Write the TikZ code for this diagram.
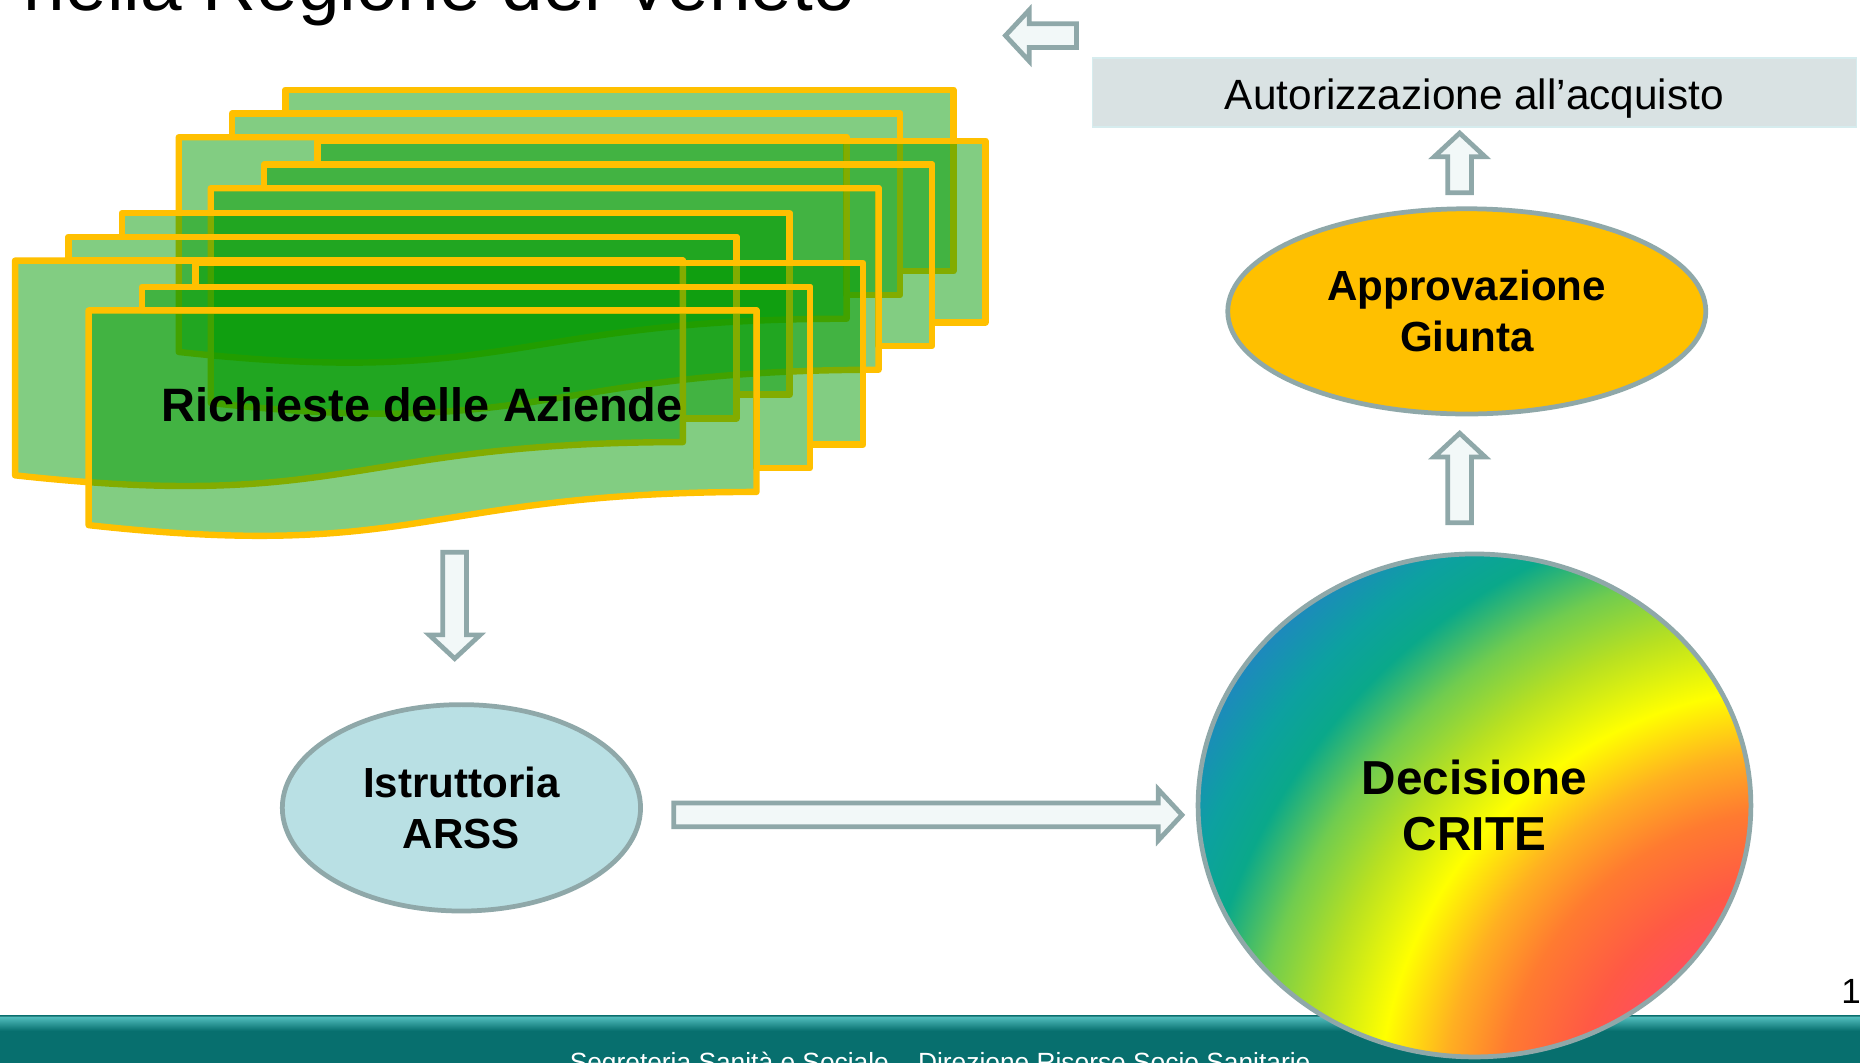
\documentclass[tikz,border=0pt]{standalone}
\usepackage{fontspec}
\setmainfont{Liberation Sans}
\usepackage{tikz}
\usetikzlibrary{shapes.geometric,calc}

\definecolor{docgreen}{RGB}{0,153,0}
\definecolor{docgold}{RGB}{255,192,0}
\definecolor{arrowgray}{RGB}{143,168,169}
\definecolor{arrowfill}{RGB}{242,248,248}
\definecolor{istrblue}{RGB}{185,224,228}
\definecolor{authgray}{RGB}{217,226,227}
\definecolor{authline}{RGB}{214,236,238}
\definecolor{footdark}{RGB}{7,111,110}
\definecolor{footlight}{RGB}{76,184,184}
\definecolor{footline}{RGB}{44,135,135}

\pgfdeclareradialshading{critefill}{\pgfpoint{0bp}{0bp}}{%
rgb(0bp)=(1,.30,.38);
rgb(5.7bp)=(1,.31,.36);
rgb(7.15bp)=(1,.35,.27);
rgb(9.3bp)=(1,.48,.19);
rgb(11.05bp)=(1,.69,.13);
rgb(12.95bp)=(1,1,0);
rgb(15bp)=(.72,.88,.13);
rgb(16.8bp)=(.44,.80,.31);
rgb(18.55bp)=(.04,.66,.54);
rgb(20bp)=(.05,.63,.63);
rgb(21.8bp)=(.12,.53,.75);
rgb(25bp)=(.13,.50,.78)}

\begin{document}
\begin{tikzpicture}[x=1pt,y=-1pt]
\tikzstyle{docpage}=[fill=docgreen,fill opacity=0.49,draw=docgold,line width=5.4pt,line join=round];
\tikzstyle{bubble}=[draw=arrowgray,line width=4pt,shape=ellipse,align=center,inner sep=0pt,font=\fontsize{35.5}{43}\selectfont\bfseries];
\tikzstyle{barrow}=[draw=arrowgray,fill=arrowfill,line width=4pt,
  to path={let \p1=(\tikztostart), \p2=(\tikztotarget),
    \n1={atan2(\y2-\y1,\x2-\x1)}, \n2={veclen(\x2-\x1,\y2-\y1)-20} in
    ($(\p1)+(\n1+90:10pt)$) -- ($(\p1)+(\n1:\n2)+(\n1+90:10pt)$)
    -- ($(\p1)+(\n1:\n2)+(\n1+90:21.5pt)$) -- (\p2)
    -- ($(\p1)+(\n1:\n2)+(\n1-90:21.5pt)$) -- ($(\p1)+(\n1:\n2)+(\n1-90:10pt)$)
    -- ($(\p1)+(\n1-90:10pt)$) -- cycle}];
\path[use as bounding box,fill=white] (0,0) rectangle (1568,896);

\foreach \dx/\dy in {150.7/115.7,177.7/158.7,12.7/219.7,74.7/261.7}{
  \begin{scope}[shift={(\dx,\dy)}]
  \path[docpage] (90,-20) -- (90,-40) -- (653,-40) -- (653,113) -- (608,113) -- (608,-20) -- cycle;
  \path[docpage] (45,0) -- (45,-20) -- (608,-20) -- (608,133) -- (563,133) -- (563,0) -- cycle;
  \path[docpage] (0,0) -- (563,0) -- (563,153) .. controls (281,153) and (281,212) .. (0,181) -- cycle;
  \end{scope}
}
\node[anchor=base,inner sep=0pt,font=\fontsize{39.5}{44}\selectfont\bfseries] (docs) at (356,355) {Richieste delle Aziende};

\node[draw=authline,line width=1.5pt,fill=authgray,minimum width=644pt,minimum height=58pt,inner sep=0pt,
  text height=28.4pt,text depth=0pt,font=\fontsize{35.7}{40}\selectfont] (auth) at (1243,78) {Autorizzazione all’acquisto};
\node[bubble,fill=docgold,minimum width=403pt,minimum height=173pt] (giunta) at (1236.5,262.5) {Approvazione\\Giunta};
\node[bubble,fill=istrblue,minimum width=302pt,minimum height=174pt] (istr) at (389,681) {Istruttoria\\ARSS};

\fill[footdark] (0,856) rectangle (1568,900);
\shade[top color=footlight,bottom color=footdark] (0,858) rectangle (1568,869);
\draw[footline,line width=1.2pt] (0,856.8) -- (1568,856.8);
\node[anchor=base,inner sep=0pt,text=white,font=\fontsize{22.2}{26}\selectfont] (foot) at (792.5,903) {Segreteria Sanità e Sociale – Direzione Risorse Socio Sanitarie};

\node[bubble,font=\fontsize{40.2}{48}\selectfont\bfseries,minimum width=466pt,minimum height=424pt,
  path picture={\shade[shading=critefill] ($(path picture bounding box.center)+(-419,-438)$) rectangle +(1400,1400);}] (crite) at (1243,679) {Decisione\\CRITE};

\coordinate (b1) at (907.5,30);
\coordinate (b2) at (847.6,30);
\coordinate (i1) at (383.3,465.6);
\coordinate (i2) at (383.3,555.2);
\coordinate (r1) at (568,687);
\coordinate (r2) at (996.4,687);
\coordinate (u1) at (1230.5,440.6);
\coordinate (u2) at (1230.5,365.2);
\coordinate (u3) at (1230.5,162.4);
\coordinate (u4) at (1230.5,112.2);
\draw[barrow] (b1) to (b2);
\draw[barrow] (i1) to (i2);
\draw[barrow] (r1) to (r2);
\draw[barrow] (u1) to (u2);
\draw[barrow] (u3) to (u4);

\node[anchor=base west,inner sep=0pt,font=\fontsize{29.5}{34}\selectfont] (pagenum) at (1552,845.8) {1};
\node[anchor=base west,inner sep=0pt,font=\fontsize{63}{70}\selectfont] (title) at (20,9) {nella Regione del Veneto};
\end{tikzpicture}
\end{document}
